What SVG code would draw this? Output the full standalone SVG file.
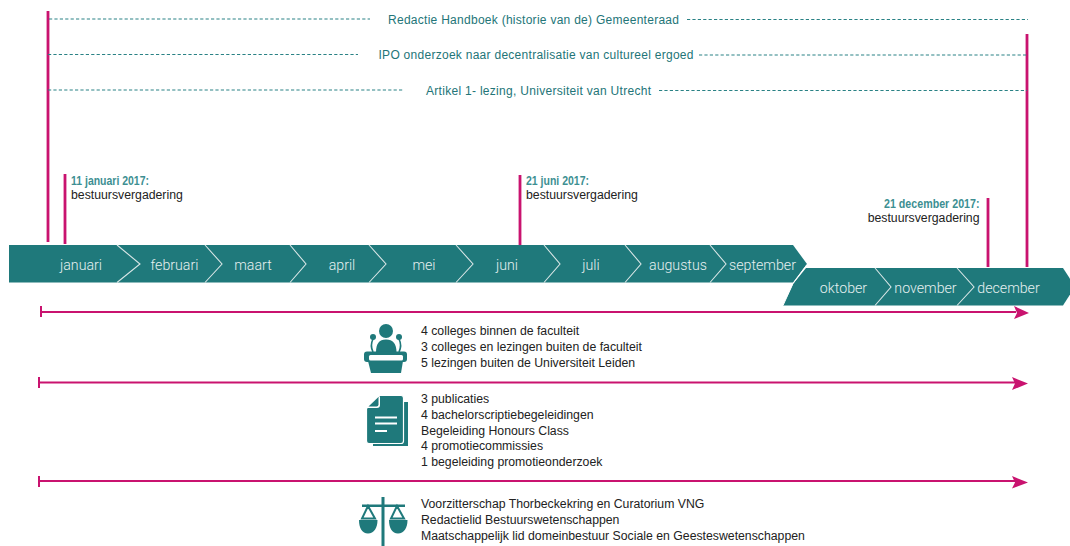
<svg xmlns="http://www.w3.org/2000/svg" width="1070" height="546" viewBox="0 0 1070 546">
<style>
text{font-family:"Liberation Sans",Arial,sans-serif}
.b{font-size:12.270px;fill:#222}
.t{font-size:12px;fill:#237578}
.m{font-family:Roboto,"Liberation Sans",sans-serif;font-weight:300;font-size:14.200px;fill:#e6f0f0;text-anchor:middle}
.d{font-weight:700;font-size:12.500px;fill:#3d8f92}
.p{stroke:#c9136f;stroke-width:2.800;fill:none}
.a{stroke:#c9136f;stroke-width:2;fill:none}
.h{fill:#c9136f}
.s{stroke:#2a8285;stroke-width:1.200;stroke-dasharray:3.200 2.200;fill:none}
.c{stroke:#d9e6e6;stroke-width:1.100;fill:none}
.i{fill:#1f797b}
</style>
<g id="band">
<path class="i" d="M9 245H793L807 264L793 282.500H9Z"/>
<path class="i" d="M793 284L806 268H1063L1075 286.500L1063 305.500H783Z"/>
<path d="M807 264.500L793 283.500L783 305.500" stroke="#fff" stroke-width="1" fill="none"/>
</g>
<g id="chevrons">
<path class="c" d="M117 245L140 264L117 282.500M205 245L222 264L205 282.500M290 245L306 264L290 282.500M369 245L386 264L369 282.500M456 245L473 264L456 282.500M544 245L560 264L544 282.500M625 245L641 264L625 282.500M710 245L726 264L710 282.500M875 268L891 287L875 305.500M957 268L974 287L957 305.500"/>
</g>
<g id="months">
<text class="m" x="81" y="269.500">januari</text>
<text class="m" x="174.500" y="269.500">februari</text>
<text class="m" x="253" y="269.500">maart</text>
<text class="m" x="342" y="269.500">april</text>
<text class="m" x="424" y="269.500">mei</text>
<text class="m" x="507" y="269.500">juni</text>
<text class="m" x="591" y="269.500">juli</text>
<text class="m" x="678" y="269.500">augustus</text>
<text class="m" x="762.500" y="269.500">september</text>
<text class="m" x="843.500" y="292.500">oktober</text>
<text class="m" x="925.500" y="292.500">november</text>
<text class="m" x="1008.500" y="292.500">december</text>
</g>
<g id="connectors">
<path class="p" d="M48 11V242M65 174V244M520 175V245M988 198V267M1027 34V267"/>
<path class="s" d="M49 19H370M687 19.500H1028M48 54.500H358M699 55H1027M48 90H403M659 90.500H1027"/>
<path class="a" d="M41 312H1016M41 306V317M39 382.500H1015M39 377V388M39 481H1015M39 476V487"/>
<path class="h" d="M1014 306L1029 313L1014 319L1017 313ZM1012 377L1028 383.500L1012 390L1015 383.500ZM1012 476L1028 482.500L1012 488.500L1015 482.500Z"/>
</g>
<g id="top-labels">
<text class="t" x="388" y="23.500" textLength="291">Redactie Handboek (historie van de) Gemeenteraad</text>
<text class="t" x="378.500" y="59" textLength="315">IPO onderzoek naar decentralisatie van cultureel ergoed</text>
<text class="t" x="426" y="94.500" textLength="225">Artikel 1- lezing, Universiteit van Utrecht</text>
</g>
<g id="meeting-1"><text class="d" x="71" y="184.500" textLength="78" lengthAdjust="spacingAndGlyphs">11 januari 2017:</text><text class="b" x="71" y="198.500">bestuursvergadering</text></g>
<g id="meeting-2"><text class="d" x="526" y="184.500" textLength="63" lengthAdjust="spacingAndGlyphs">21 juni 2017:</text><text class="b" x="526" y="198.500">bestuursvergadering</text></g>
<g id="meeting-3"><text class="d" x="884" y="208" textLength="95.500" lengthAdjust="spacingAndGlyphs">21 december 2017:</text><text class="b" x="979.500" y="222" text-anchor="end">bestuursvergadering</text></g>
<g id="lectures">
<circle class="i" cx="386" cy="331" r="7"/>
<path class="i" d="M376 352C376 344 379 339.500 386 339.500C393 339.500 396.500 344 396.500 352Z"/>
<circle class="i" cx="373" cy="337" r="3"/>
<circle class="i" cx="399" cy="337" r="3"/>
<path d="M373 339C371 343 371 348 373 352M399 339C401 343 401 348 399 352" stroke="#1f797b" stroke-width="1.600" fill="none"/>
<rect class="i" x="364" y="351.500" width="43" height="10.500" rx="3"/>
<rect x="369" y="355" width="34" height="5.500" rx="1.500" fill="#fff"/>
<path class="i" d="M368 361H403L401 373H371Z"/>
<text class="b"><tspan x="421" y="334.500">4 colleges binnen de faculteit</tspan><tspan x="421" y="350.500">3 colleges en lezingen buiten de faculteit</tspan><tspan x="421" y="366.500">5 lezingen buiten de Universiteit Leiden</tspan></text>
</g>
<g id="publications">
<rect class="i" x="373" y="402" width="35" height="44"/>
<path class="i" stroke="#fff" stroke-width="1.200" d="M379.500 395.500H401Q403.500 395.500 403.500 398V441Q403.500 443.500 401 443.500H369Q366.500 443.500 366.500 441V408.500Z"/>
<path d="M380 396V405Q380 408 377 408H367Z" fill="#fff"/>
<path class="i" d="M378.500 397V404.500Q378.500 406.500 376.500 406.500H368.500Z"/>
<path d="M375 417.500H397M375 423.500H397M375 431H387" stroke="#fff" stroke-width="2" fill="none"/>
<text class="b"><tspan x="421" y="402.500">3 publicaties</tspan><tspan x="421" y="418.500">4 bachelorscriptiebegeleidingen</tspan><tspan x="421" y="434.500">Begeleiding Honours Class</tspan><tspan x="421" y="449.500">4 promotiecommissies</tspan><tspan x="421" y="465.500">1 begeleiding promotieonderzoek</tspan></text>
</g>
<g id="functions">
<rect class="i" x="381.500" y="497" width="3" height="49"/>
<rect class="i" x="362" y="504.500" width="43" height="2.500"/>
<path d="M368 506L362 518.500H375ZM397 506L391 518.500H404Z" stroke="#1f797b" stroke-width="2" fill="none"/>
<path class="i" d="M359 520H377.500C377.500 528 374 533.500 368 533.500C362 533.500 359 528 359 520ZM389 520H407.500C407.500 528 404 533.500 398 533.500C392 533.500 389 528 389 520Z"/>
<text class="b"><tspan x="421" y="507.500">Voorzitterschap Thorbeckekring en Curatorium VNG</tspan><tspan x="421" y="523.500">Redactielid Bestuurswetenschappen</tspan><tspan x="421" y="539.500">Maatschappelijk lid domeinbestuur Sociale en Geesteswetenschappen</tspan></text>
</g>
</svg>
